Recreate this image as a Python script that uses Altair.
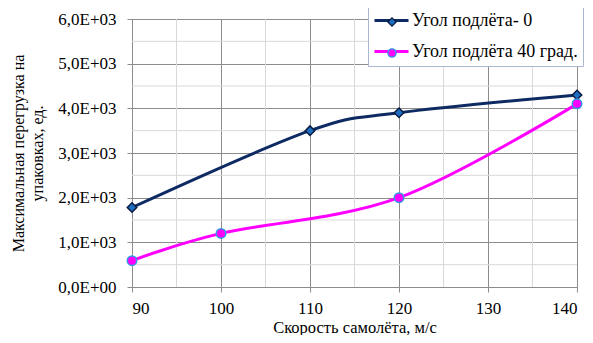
import altair as alt
import pandas as pd

speed_0 = [90, 110, 120, 140]
load_0 = [1780, 3500, 3900, 4300]
speed_40 = [90, 100, 120, 140]
load_40 = [590, 1200, 2000, 4100]
series_names = ["Угол подлёта- 0", "Угол подлёта 40 град."]

x_major = [90, 100, 110, 120, 130, 140]
x_minor = [95, 105, 115, 125, 135]
y_major = [0, 1000, 2000, 3000, 4000, 5000, 6000]
y_minor = [500, 1500, 2500, 3500, 4500, 5500]

df = pd.concat([
    pd.DataFrame({"speed": speed_0, "load": load_0, "series": series_names[0]}),
    pd.DataFrame({"speed": speed_40, "load": load_40, "series": series_names[1]}),
])
df["line_series"] = df["series"]

FONT = "Liberation Serif"
NAVY = "#0E2A63"
MAG = "#FF00FF"
MAJ = "#8C8C8C"
MIN = "#D9D9D9"

xs = alt.Scale(domain=[90, 140], nice=False, zero=False)
ys = alt.Scale(domain=[0, 6000], nice=False)

x_enc = alt.X("speed:Q", scale=xs,
              axis=alt.Axis(values=x_major, title="Скорость самолёта, м/с",
                            gridColor=MAJ, tickColor=MAJ, domainColor=MAJ,
                            tickSize=5, labelPadding=8, titlePadding=3,
                            labelFont=FONT, titleFont=FONT,
                            labelFontSize=17, titleFontSize=16.5))
y_enc = alt.Y("load:Q", scale=ys,
              axis=alt.Axis(values=y_major,
                            title=["Максимальная перегрузка на", "упаковках, ед."],
                            labelExpr="datum.value == 0 ? '0,0E+00' : replace(format(datum.value/1000, '.1f'), '.', ',') + 'E+03'",
                            gridColor=MAJ, tickColor=MAJ, domainColor=MAJ,
                            tickSize=5, labelPadding=11, titlePadding=12,
                            labelFont=FONT, titleFont=FONT,
                            labelFontSize=17, titleFontSize=16, titleLineHeight=19))

xgrid = alt.Chart(pd.DataFrame({"speed": x_minor})).mark_rule(color=MIN, strokeWidth=1).encode(x=x_enc)
ygrid = alt.Chart(pd.DataFrame({"load": y_minor})).mark_rule(color=MIN, strokeWidth=1).encode(y=y_enc)

lines = alt.Chart(df).mark_line(interpolate="cardinal", strokeWidth=3).encode(
    x=x_enc, y=y_enc,
    color=alt.Color("line_series:N", sort=series_names,
                    scale=alt.Scale(range=[NAVY, MAG]),
                    legend=alt.Legend(orient="none", legendX=236, legendY=-22, title=None,
                                      symbolType="stroke", symbolSize=1156, symbolStrokeWidth=3,
                                      labelFontSize=18, labelFont=FONT, labelOffset=2,
                                      rowPadding=3, padding=5, labelLimit=300)),
)

leg_pts = dict(orient="none", legendX=246, legendY=-11, title=None,
               symbolSize=70, symbolStrokeWidth=1.2,
               labelFontSize=18, labelFont=FONT, labelExpr="''",
               rowPadding=13, padding=5, labelLimit=300,
               fillColor="transparent", strokeColor="transparent")

points = alt.Chart(df).mark_point(filled=True, size=90, strokeWidth=1.5, opacity=1).encode(
    x=x_enc, y=y_enc,
    fill=alt.Fill("series:N", sort=series_names,
                  scale=alt.Scale(domain=series_names, range=["#1F6FC0", MAG]),
                  legend=alt.Legend(**leg_pts)),
    shape=alt.Shape("series:N", sort=series_names,
                    scale=alt.Scale(domain=series_names, range=["diamond", "circle"]),
                    legend=alt.Legend(**leg_pts)),
    stroke=alt.Stroke("series:N", sort=series_names,
                      scale=alt.Scale(domain=series_names, range=["#0A1A40", "#2F9BE0"]),
                      legend=alt.Legend(**leg_pts)),
)

chart = alt.layer(xgrid, ygrid, lines, points).properties(
    width=445, height=268,
    autosize=alt.AutoSizeParams(type="none"),
    padding={"left": 124, "top": 11, "right": 8, "bottom": 48},
).configure(font=FONT).configure_view(stroke=None).configure_axis(
    labelFont=FONT, titleFont=FONT, labelColor="#000", titleColor="#000",
    titleFontWeight="normal", gridWidth=1,
).configure_legend(
    fillColor="white", strokeColor="#A9B8D0", cornerRadius=0, labelFont=FONT,
)

chart.save("out.html", embed_options={"renderer": "svg", "actions": False})
